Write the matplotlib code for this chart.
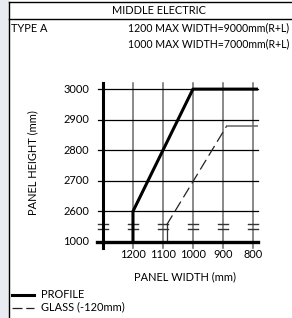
import numpy as np
import matplotlib.pyplot as plt
from matplotlib.lines import Line2D

plt.rcParams['font.family'] = ['Lato', 'DejaVu Sans']

# data
widths = [1300, 1200, 1100, 1000, 900, 800]
width_labels = ['', '1200', '1100', '1000', '900', '800']
heights = [2600, 2700, 2800, 2900, 3000]
height_labels = ['2600', '2700', '2800', '2900', '3000']
base_label = '1000'

profile_w = [1200, 1200, 1000, 783]
profile_h = [1000, 2600, 3000, 3000]
glass_vert_w = [1088, 1088]
glass_vert_h = [1000, 2555]
glass_diag_w = [1088, 887]
glass_diag_h = [2555, 2880]
glass_flat_w = [887, 783]
glass_flat_h = [2880, 2880]

BASE = 2500   # where 1000 sits on the broken axis
BREAK = 2550


def yb(vals):
    # squash the 1000 value down onto the broken part of the axis
    return [BASE if v <= 1000 else v for v in vals]


W, H = 292, 318
fig = plt.figure(figsize=(W / 100, H / 100), dpi=100)
fig.patch.set_facecolor('white')


def fx(px):
    return px / W


def fy(py):
    return 1 - py / H


# light strip on the left and the frame
fig.patches.append(plt.Rectangle((0, 0), fx(8), 1, transform=fig.transFigure,
                                 color='#e8ebf1', zorder=0))
fig.lines.append(Line2D([fx(8.5), fx(8.5)], [0, fy(2)], transform=fig.transFigure, color='black', lw=1))
fig.lines.append(Line2D([fx(8.5), 1], [fy(2), fy(2)], transform=fig.transFigure, color='black', lw=1))
fig.lines.append(Line2D([fx(8.5), 1], [fy(19), fy(19)], transform=fig.transFigure, color='black', lw=1))

fs = 7.9
hs = 7.6
fig.text(fx(159), fy(11), 'MIDDLE ELECTRIC', ha='center', va='center', fontsize=fs)
fig.text(fx(11), fy(29), 'TYPE A', ha='left', va='center', fontsize=fs)
fig.text(fx(128), fy(28), '1200 MAX WIDTH=9000mm(R+L)', ha='left', va='center', fontsize=hs)
fig.text(fx(128), fy(44), '1000 MAX WIDTH=7000mm(R+L)', ha='left', va='center', fontsize=hs)

ax = fig.add_axes([fx(103), fy(248), fx(258) - fx(103), fy(83) - fy(248)])
ax.set_xlim(1300, 783)
ax.set_ylim(2480, 3020)
for s in ax.spines.values():
    s.set_visible(False)
ax.set_xticks([])
ax.set_yticks([])
ax.patch.set_alpha(0)

# vertical grid lines
for w in widths[1:]:
    ax.plot([w, w], [2480, 3020], color='#6a6a6a', lw=1.1, clip_on=False, zorder=1)
# horizontal grid lines
for h in heights:
    ax.plot([1317, 783], [h, h], color='black', lw=0.9, clip_on=False, zorder=2)

# axis lines
ax.plot([1300, 1300], [2480, 3020], color='black', lw=2.2, clip_on=False, zorder=4)
ax.plot([1320, 783], [BASE, BASE], color='black', lw=2.4, clip_on=False, zorder=4)

# break marks
for w in widths:
    for b in (BREAK - 9, BREAK + 8):
        ax.plot([w + 17, w - 17], [b, b], color='#333333', lw=1.0, clip_on=False, zorder=3)

# profile
ax.plot(profile_w, yb(profile_h), color='black', lw=2.2, solid_capstyle='butt',
        clip_on=False, zorder=5)

# glass
ax.plot(glass_vert_w, yb(glass_vert_h), color='#333333', lw=0.9, zorder=3)
ax.plot(glass_diag_w, glass_diag_h, color='#222222', lw=0.9, dashes=(9, 4), zorder=3)
ax.plot(glass_flat_w, glass_flat_h, color='#666666', lw=1.1, zorder=3)

# tick labels
for w, lab in zip(widths, width_labels):
    if lab:
        ax.text(w, BASE - 42, lab, ha='center', va='center', fontsize=fs)
for h, lab in zip(heights, height_labels):
    ax.text(1345, h, lab, ha='right', va='center', fontsize=fs)
ax.text(1345, BASE, base_label, ha='right', va='center', fontsize=fs)

fig.text(fx(185), fy(277), 'PANEL WIDTH (mm)', ha='center', va='center', fontsize=fs)
fig.text(fx(33), fy(163), 'PANEL HEIGHT (mm)', ha='center', va='center', rotation=90, fontsize=fs)

# legend
fig.lines.append(Line2D([fx(12), fx(34)], [fy(295), fy(295)], transform=fig.transFigure,
                        color='black', lw=2.2))
fig.lines.append(Line2D([fx(12), fx(34)], [fy(308), fy(308)], transform=fig.transFigure,
                        color='#222222', lw=0.9, dashes=(8, 3)))
fig.text(fx(41), fy(294), 'PROFILE', ha='left', va='center', fontsize=fs)
fig.text(fx(41), fy(307), 'GLASS (-120mm)', ha='left', va='center', fontsize=fs)

fig.savefig('out.png', dpi=100)
